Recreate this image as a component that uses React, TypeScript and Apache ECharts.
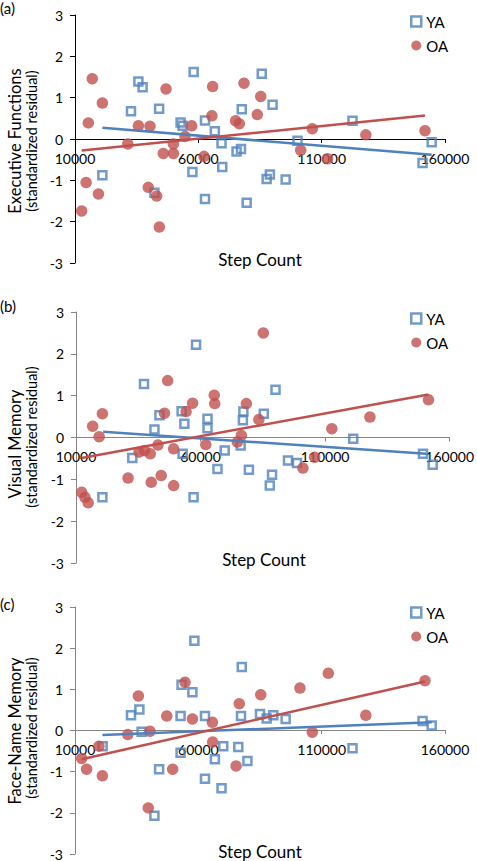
import React, { useEffect, useRef } from "react";
import * as echarts from "echarts";

const BLUE = "#4F81BD";
const RED = "#C0504D";
const FONT = "Lato, 'Open Sans', sans-serif";

const xMin = 10000;
const xMax = 160000;
const xStep = 50000;
const yMin = -3;
const yMax = 3;
const yStep = 1;

const panelLabels = ["(a)", "(b)", "(c)"];
const yTitles = ["Executive Functions", "Visual Memory", "Face-Name Memory"];
const ySubtitle = "(standardized residual)";
const xTitle = "Step Count";
const groups = ["YA", "OA"];

// Panel (a) Executive Functions
const execYA: number[][] = [
  [35700, 1.39], [37400, 1.25], [32700, 0.67], [44100, 0.73], [58100, 1.62], [85700, 1.58],
  [90100, 0.83], [77600, 0.72], [52800, 0.4], [53600, 0.32], [62700, 0.45], [66700, 0.19],
  [69400, -0.1], [75500, -0.3], [77300, -0.24], [57600, -0.8], [69700, -0.68], [62700, -1.45],
  [79600, -1.54], [87700, -0.97], [89000, -0.86], [95400, -0.98], [100200, -0.04], [122500, 0.44],
  [150900, -0.58], [154600, -0.08], [21100, -0.88], [42200, -1.3],
];
const execOA: number[][] = [
  [17000, 1.46], [21100, 0.87], [15400, 0.39], [14500, -1.05], [19500, -1.33], [12700, -1.74],
  [31400, -0.12], [35700, 0.32], [40400, 0.31], [39700, -1.17], [43100, -1.38], [44200, -2.13],
  [46900, 1.21], [45800, -0.35], [49900, -0.35], [49900, -0.12], [54600, 0.06], [57300, 0.32],
  [62300, -0.42], [65800, 1.27], [65500, 0.56], [75100, 0.44], [76600, 0.37], [78500, 1.35],
  [85300, 1.03], [83900, 0.59], [101500, -0.27], [106200, 0.25], [112400, -0.48], [127900, 0.1],
  [151900, 0.2],
];
const execYATrend: number[][] = [[21100, 0.27], [154600, -0.38]];
const execOATrend: number[][] = [[12700, -0.28], [151900, 0.57]];

// Panel (b) Visual Memory
const visYA: number[][] = [
  [20600, -1.43], [32600, -0.49], [37300, 1.28], [41500, 0.19], [43500, 0.53], [52400, 0.63],
  [53500, 0.33], [52800, -0.39], [58200, 2.22], [57200, -1.43], [62800, 0.45], [62800, 0.22],
  [69700, -0.31], [66800, -0.75], [77200, 0.62], [77000, 0.41], [76100, -0.19], [79400, -0.77],
  [85400, 0.57], [90100, 1.14], [87800, -1.15], [88700, -0.89], [95100, -0.55], [98700, -0.61],
  [121300, -0.03], [149300, -0.39], [153200, -0.65],
];
const visOA: number[][] = [
  [12300, -1.31], [13600, -1.43], [14900, -1.56], [16700, 0.27], [19300, 0.02], [20600, 0.57],
  [30900, -0.97], [35300, -0.35], [37500, -0.31], [39800, -0.39], [40200, -1.07], [42900, -0.18],
  [44200, -0.91], [45500, 0.58], [46800, 1.36], [49200, -0.27], [49200, -1.15], [54200, 0.62],
  [56800, 0.82], [62100, -0.17], [65500, 1.01], [65700, 0.81], [74800, -0.11], [76400, 0.05],
  [78400, 0.81], [83400, 0.43], [85200, 2.5], [101100, -0.73], [105800, -0.47], [112700, 0.21],
  [128000, 0.49], [151500, 0.9],
];
const visYATrend: number[][] = [[20900, 0.14], [150600, -0.39]];
const visOATrend: number[][] = [[12300, -0.49], [151500, 1.03]];

// Panel (c) Face-Name Memory
const faceYA: number[][] = [
  [21200, -0.38], [32700, 0.37], [36100, 0.51], [37000, -0.03], [42200, -2.07], [44100, -0.94],
  [53200, 1.11], [52800, 0.35], [52800, -0.54], [57600, 0.93], [58400, 2.18], [62700, 0.35],
  [62700, -1.17], [66700, -0.7], [70100, -0.38], [69400, -1.4], [76200, -0.4], [77300, 0.35],
  [77600, 1.54], [79900, -0.74], [85000, 0.4], [87700, 0.29], [90400, 0.37], [95400, 0.28],
  [122500, -0.43], [150900, 0.23], [154600, 0.12],
];
const faceOA: number[][] = [
  [12700, -0.68], [14700, -0.94], [19700, -0.38], [21100, -1.1], [31400, -0.1], [35700, 0.84],
  [39700, -1.88], [40400, -0.02], [47200, 0.35], [49600, -0.94], [54600, 1.17], [57600, 0.28],
  [65700, 0.2], [65800, -0.28], [75300, -0.86], [76600, 0.65], [85300, 0.87], [101200, 1.03],
  [106200, -0.04], [112700, 1.39], [127900, 0.37], [151900, 1.21],
];
const faceYATrend: number[][] = [[21100, -0.11], [154600, 0.2]];
const faceOATrend: number[][] = [[12700, -0.7], [151900, 1.19]];

const panels = [
  { ya: execYA, oa: execOA, yaT: execYATrend, oaT: execOATrend },
  { ya: visYA, oa: visOA, yaT: visYATrend, oaT: visOATrend },
  { ya: faceYA, oa: faceOA, yaT: faceYATrend, oaT: faceOATrend },
];

// layout
const grids = [
  { left: 75, top: 15, width: 370, height: 248 },
  { left: 76, top: 312, width: 376, height: 251 },
  { left: 75, top: 607, width: 370, height: 248 },
];
const axisColors = ["#000000", "#868686", "#868686"];
const labelPos = [0, 298, 596];
const titleMainY = [141, 444, 731];
const titleSubY = [141, 437, 728];
const stepY = [259, 559, 851];
const stepX = [260, 264, 260];
const legendTop = [9, 306, 600];

export default function App() {
  const ref = useRef<HTMLDivElement>(null);
  useEffect(() => {
    if (!ref.current) return;
    const chart = echarts.init(ref.current, undefined, { renderer: "svg" });
    const xAxis: any[] = [];
    const yAxis: any[] = [];
    const series: any[] = [];
    const legend: any[] = [];
    const graphic: any[] = [];
    panels.forEach((p, i) => {
      const ac = axisColors[i];
      const zeroOffset = -grids[i].height * (0 - yMin) / (yMax - yMin);
      xAxis.push({
        type: "value",
        gridIndex: i,
        position: "bottom",
        offset: zeroOffset,
        min: xMin,
        max: xMax,
        interval: xStep,
        axisLine: { onZero: false, lineStyle: { color: ac, width: 1 } },
        axisTick: { show: true, length: 4, lineStyle: { color: ac } },
        splitLine: { show: false },
        axisLabel: {
          color: "#000",
          fontFamily: FONT,
          fontSize: 14,
          margin: 12,
          formatter: (v: number) => String(v),
        },
      });
      yAxis.push({
        type: "value",
        gridIndex: i,
        min: yMin,
        max: yMax,
        interval: yStep,
        axisLine: { show: true, onZero: false, lineStyle: { color: ac, width: 1 } },
        axisTick: { show: true, length: 5, lineStyle: { color: ac } },
        splitLine: { show: false },
        axisLabel: { color: "#000", fontFamily: FONT, fontSize: 14, margin: 12 },
      });
      series.push({
        name: groups[0],
        type: "scatter",
        xAxisIndex: i,
        yAxisIndex: i,
        symbol: "rect",
        symbolSize: 8,
        itemStyle: { color: "rgba(0,0,0,0)", borderColor: BLUE, borderWidth: 2.5 },
        data: p.ya,
        z: 2,
      });
      series.push({
        name: groups[1],
        type: "scatter",
        xAxisIndex: i,
        yAxisIndex: i,
        symbol: "circle",
        symbolSize: 11.5,
        itemStyle: { color: RED },
        data: p.oa,
        z: 3,
      });
      series.push({
        name: "YA trend",
        type: "line",
        xAxisIndex: i,
        yAxisIndex: i,
        symbol: "none",
        lineStyle: { color: BLUE, width: 2.5 },
        data: p.yaT,
        z: 4,
        silent: true,
      });
      series.push({
        name: "OA trend",
        type: "line",
        xAxisIndex: i,
        yAxisIndex: i,
        symbol: "none",
        lineStyle: { color: RED, width: 2.5 },
        data: p.oaT,
        z: 4,
        silent: true,
      });
      legend.push({
        orient: "vertical",
        left: 405,
        top: legendTop[i],
        itemGap: 9,
        itemWidth: 10,
        itemHeight: 10,
        selectedMode: false,
        textStyle: { fontFamily: FONT, fontSize: 15, color: "#000" },
        data: [
          { name: groups[0], icon: "rect", itemStyle: { color: "rgba(0,0,0,0)", borderColor: BLUE, borderWidth: 2.5 } },
          { name: groups[1], icon: "circle", itemStyle: { color: RED, borderWidth: 0 } },
        ],
      });
      graphic.push({
        type: "text",
        x: 0,
        y: labelPos[i],
        style: { text: panelLabels[i], font: `15px ${FONT}`, fill: "#000", textAlign: "left", textVerticalAlign: "top" },
      });
      graphic.push({
        type: "text",
        x: 15,
        y: titleMainY[i],
        rotation: Math.PI / 2,
        style: { text: yTitles[i], font: `16.5px ${FONT}`, fill: "#000", textAlign: "center", textVerticalAlign: "middle" },
      });
      graphic.push({
        type: "text",
        x: 31,
        y: titleSubY[i],
        rotation: Math.PI / 2,
        style: { text: ySubtitle, font: `14.5px ${FONT}`, fill: "#000", textAlign: "center", textVerticalAlign: "middle" },
      });
      graphic.push({
        type: "text",
        x: stepX[i],
        y: stepY[i],
        style: { text: xTitle, font: `17px ${FONT}`, fill: "#000", textAlign: "center", textVerticalAlign: "middle" },
      });
    });
    chart.setOption({
      animation: false,
      backgroundColor: "#fff",
      textStyle: { fontFamily: FONT },
      grid: grids,
      xAxis,
      yAxis,
      series,
      legend,
      graphic,
    });
    return () => chart.dispose();
  }, []);
  return <div ref={ref} style={{ position: "fixed", left: 0, top: 0, width: 477, height: 861 }} />;
}
